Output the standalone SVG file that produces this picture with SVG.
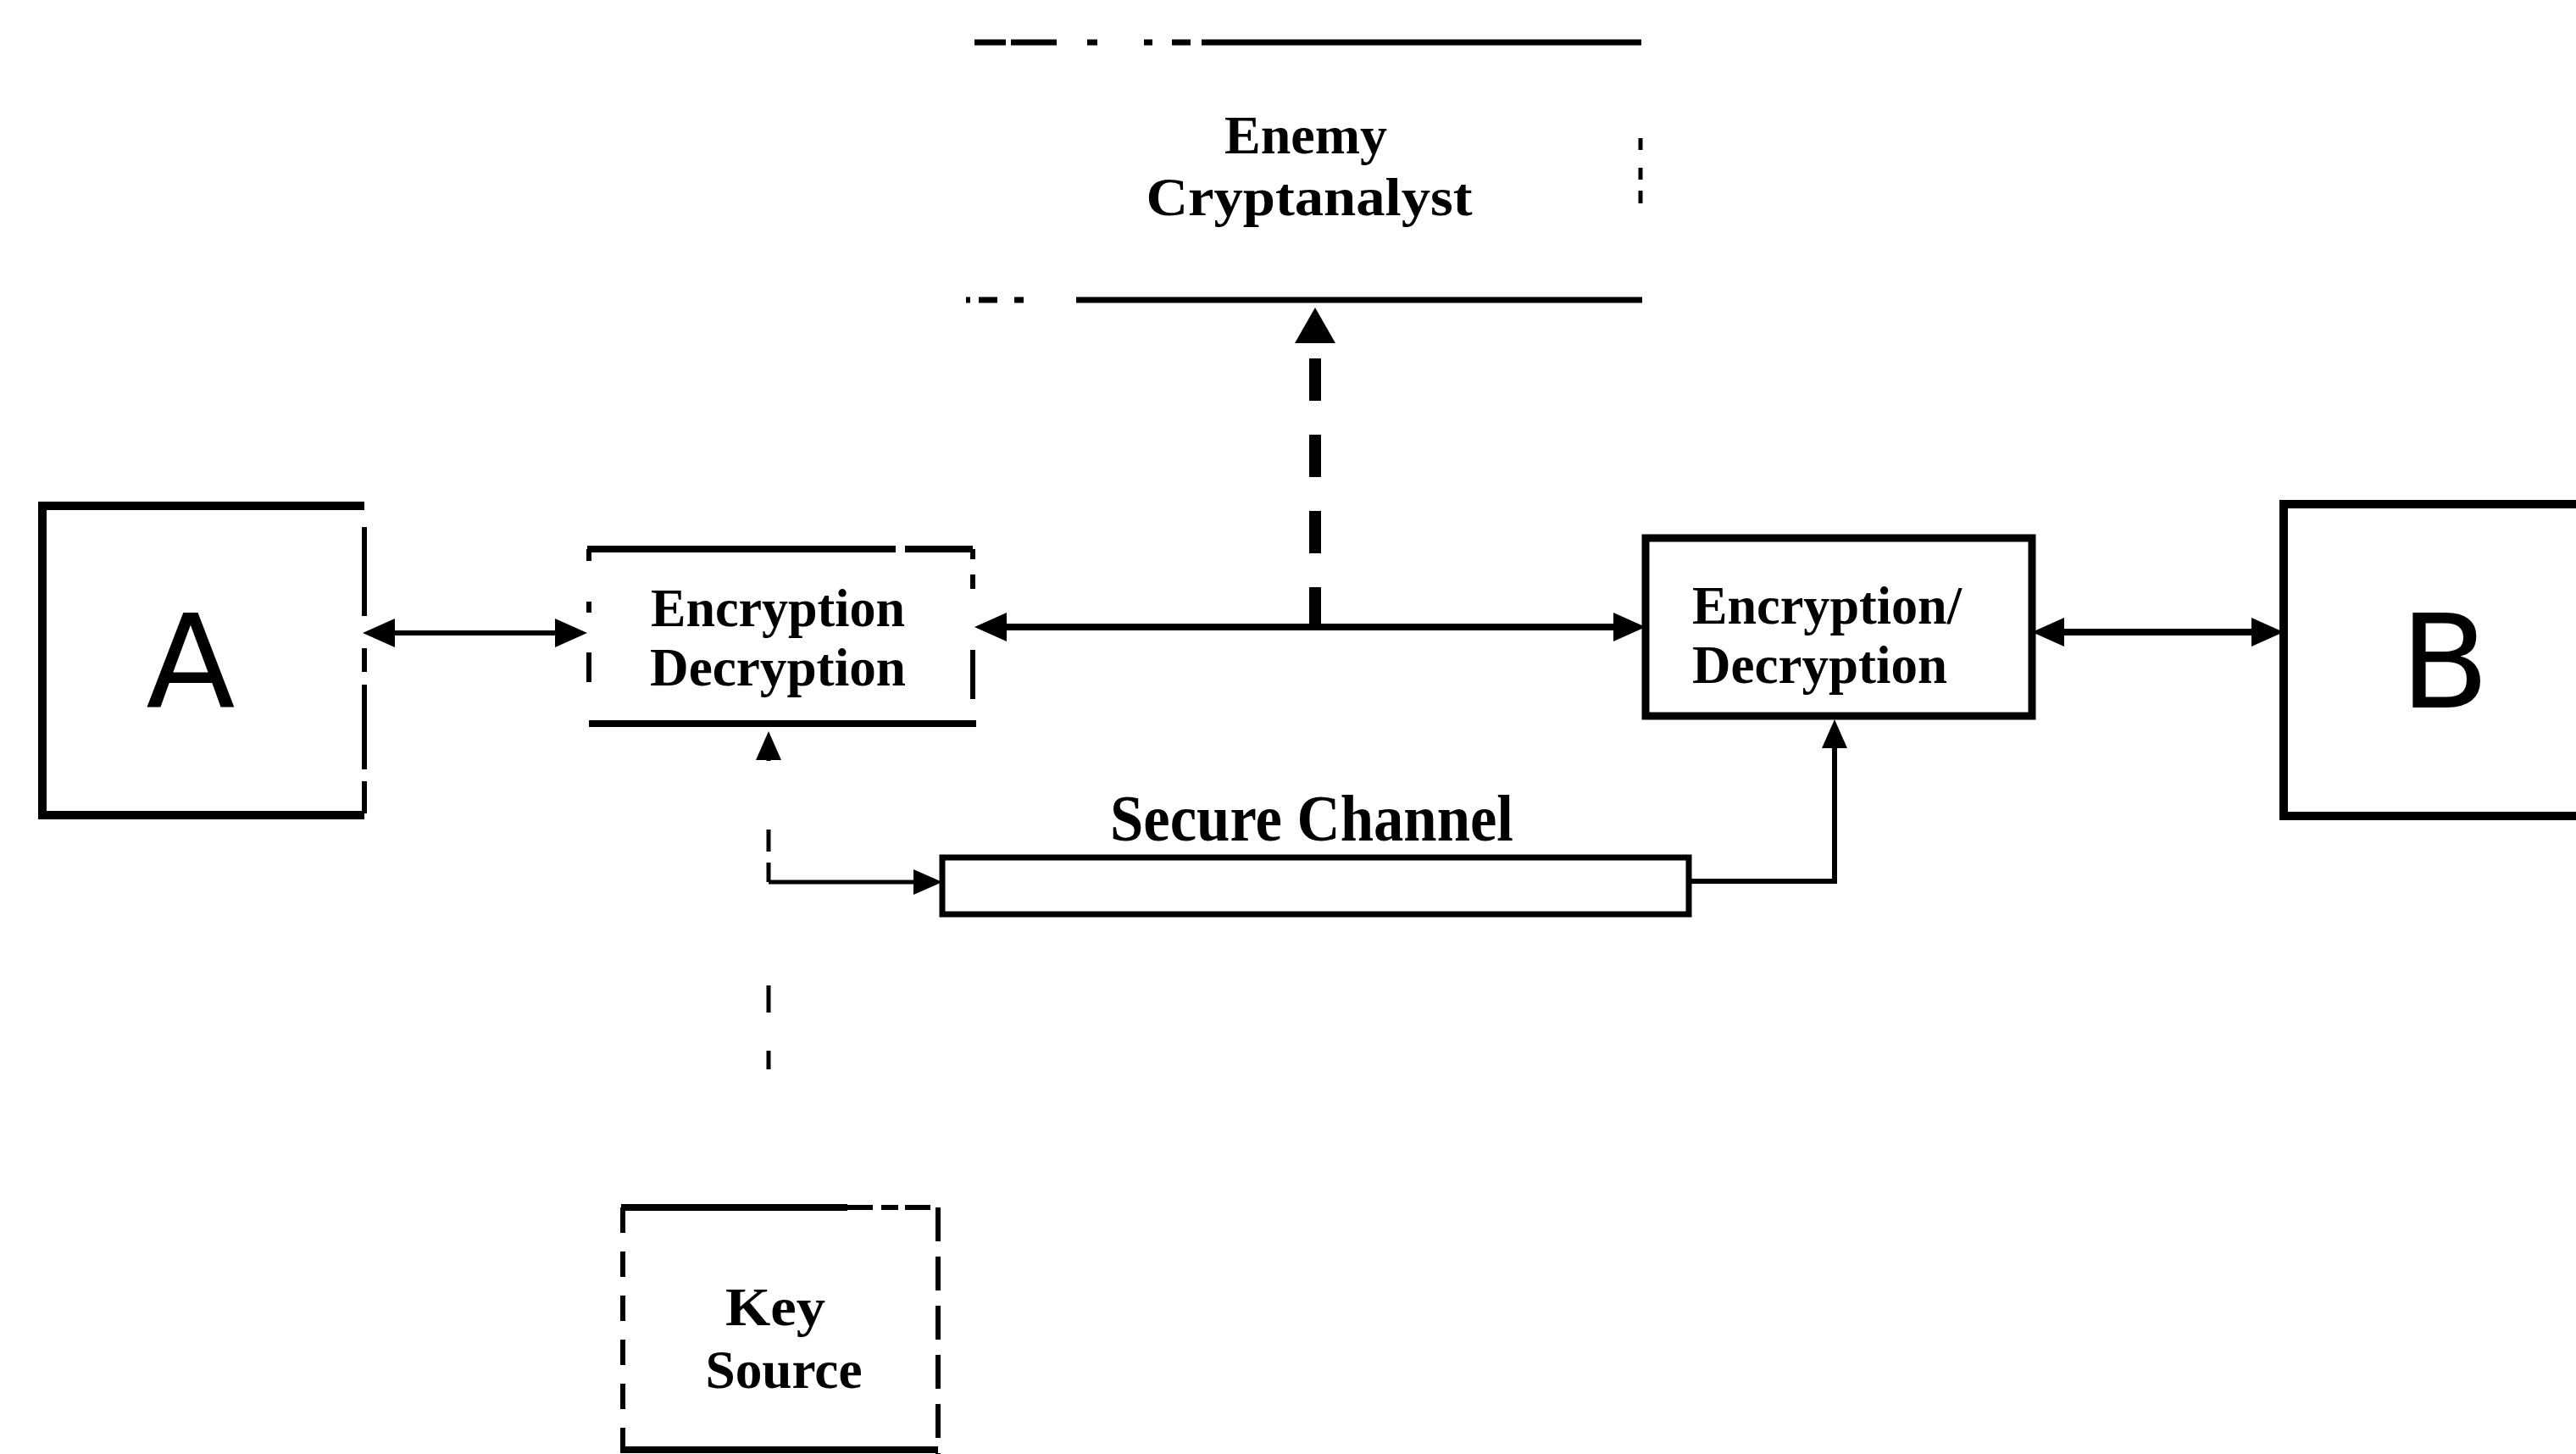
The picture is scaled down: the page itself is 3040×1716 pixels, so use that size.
<svg xmlns="http://www.w3.org/2000/svg" width="3040" height="1716" viewBox="0 0 3040 1716">
  <style>
    .edge { fill: none; stroke: #000; stroke-linecap: butt; }
    .w10 { stroke-width: 10; }
    .w9 { stroke-width: 9; }
    .w8 { stroke-width: 8; }
    .w7 { stroke-width: 7; }
    .w6 { stroke-width: 6; }
    .w5 { stroke-width: 5; }
    .lbl { font-family: "Liberation Serif", "Times New Roman", serif; font-weight: bold; fill: #000; }
    .big { font-family: "DejaVu Sans", "Liberation Sans", sans-serif; font-size: 154px; fill: #000; }
  </style>
  <defs>
    <marker id="ah" viewBox="0 0 38 34" markerWidth="38" markerHeight="34" markerUnits="userSpaceOnUse" refX="0" refY="17" orient="auto-start-reverse">
      <path d="M0,0 L38,17 L0,34 Z" fill="#000"/>
    </marker>
    <marker id="ahS" viewBox="0 0 34 30" markerWidth="34" markerHeight="30" markerUnits="userSpaceOnUse" refX="0" refY="15" orient="auto-start-reverse">
      <path d="M0,0 L34,15 L0,30 Z" fill="#000"/>
    </marker>
    <marker id="ahB" viewBox="0 0 42 48" markerWidth="42" markerHeight="48" markerUnits="userSpaceOnUse" refX="0" refY="24" orient="auto">
      <path d="M0,0 L42,24 L0,48 Z" fill="#000"/>
    </marker>
  </defs>

  <rect width="3040" height="1716" fill="#fff"/>

  <!-- party A -->
  <g id="node-a">
    <path class="edge w10" d="M430 597 H50 V962 H430"/>
    <path class="edge w6" d="M430 597 V962" stroke-dasharray="0 25 105 38 28 15 100 14 38 10"/>
    <text class="big" x="225" y="835" text-anchor="middle">A</text>
  </g>

  <!-- encryption/decryption unit at A -->
  <g id="node-enc-a">
    <path class="edge w8" d="M693 648 H1057 M1068 648 H1148 M695 854 H1152"/>
    <path class="edge w6" d="M695 648 V662 M695 710 V723 M695 770 V805 M1148 648 V660 M1148 678 V695 M1148 767 V825"/>
    <text class="lbl" x="918" y="739" font-size="63" text-anchor="middle" textLength="300" lengthAdjust="spacingAndGlyphs">Encryption</text>
    <text class="lbl" x="918" y="809" font-size="63" text-anchor="middle" textLength="302" lengthAdjust="spacingAndGlyphs">Decryption</text>
  </g>

  <!-- enemy cryptanalyst -->
  <g id="node-enemy">
    <path class="edge w7" d="M1150 50 H1187 M1193 50 H1247 M1283 50 H1295 M1350 50 H1360 M1383 50 H1405 M1418 50 H1937"/>
    <path class="edge w5" d="M1936 163 V177 M1936 198 V212 M1936 225 V240"/>
    <path class="edge w7" d="M1140 354 H1145 M1155 354 H1177 M1197 354 H1208 M1270 354 H1938"/>
    <text class="lbl" x="1541" y="181" font-size="64" text-anchor="middle" textLength="192" lengthAdjust="spacingAndGlyphs">Enemy</text>
    <text class="lbl" x="1545" y="254" font-size="64" text-anchor="middle" textLength="385" lengthAdjust="spacingAndGlyphs">Cryptanalyst</text>
  </g>

  <!-- encryption/decryption unit at B -->
  <g id="node-enc-b">
    <rect class="edge w9" x="1942" y="635" width="456" height="210"/>
    <text class="lbl" x="1997" y="736" font-size="63" textLength="318" lengthAdjust="spacingAndGlyphs">Encryption/</text>
    <text class="lbl" x="1997" y="806" font-size="63" textLength="301" lengthAdjust="spacingAndGlyphs">Decryption</text>
  </g>

  <!-- party B -->
  <g id="node-b">
    <path class="edge w10" d="M3060 595 H2695 V963 H3060"/>
    <text class="big" x="2885" y="835" text-anchor="middle">B</text>
  </g>

  <!-- secure channel -->
  <g id="node-secure">
    <rect class="edge w7" x="1112" y="1012" width="881" height="67"/>
    <text class="lbl" x="1310" y="992" font-size="78" textLength="476" lengthAdjust="spacingAndGlyphs">Secure Channel</text>
  </g>

  <!-- key source -->
  <g id="node-key">
    <path class="edge w8" d="M733 1425 H1000"/>
    <path class="edge w6" d="M1000 1425 H1107" stroke-dasharray="30 10 20 8"/>
    <path class="edge w6" d="M735 1425 V1716" stroke-dasharray="30 22"/>
    <path class="edge w6" d="M1107 1425 V1716" stroke-dasharray="40 18"/>
    <path class="edge w8" d="M735 1711 H1107"/>
    <text class="lbl" x="915" y="1564" font-size="64" text-anchor="middle" textLength="118" lengthAdjust="spacingAndGlyphs">Key</text>
    <text class="lbl" x="925" y="1638" font-size="64" text-anchor="middle" textLength="185" lengthAdjust="spacingAndGlyphs">Source</text>
  </g>

  <!-- connectors -->
  <g id="connectors">
    <path class="edge w6" d="M466 747 H655" marker-start="url(#ah)" marker-end="url(#ah)"/>
    <path class="edge w8" d="M1188 740 H1904" marker-start="url(#ah)" marker-end="url(#ah)"/>
    <path class="edge w8" d="M2436 746 H2657" marker-start="url(#ah)" marker-end="url(#ah)"/>
    <path class="edge" stroke-width="14" d="M1552 743 V405" stroke-dasharray="50 40" marker-end="url(#ahB)"/>
    <path class="edge w5" d="M907 1262 V1240 M907 1195 V1163 M907 1041 V1018 M907 1005 V979 M907 898 V897" marker-end="url(#ahS)"/>
    <path class="edge w5" d="M907 1041 H1078" marker-end="url(#ahS)"/>
    <path class="edge w6" d="M1993 1040 H2165 V883" marker-end="url(#ahS)"/>
  </g>
</svg>
